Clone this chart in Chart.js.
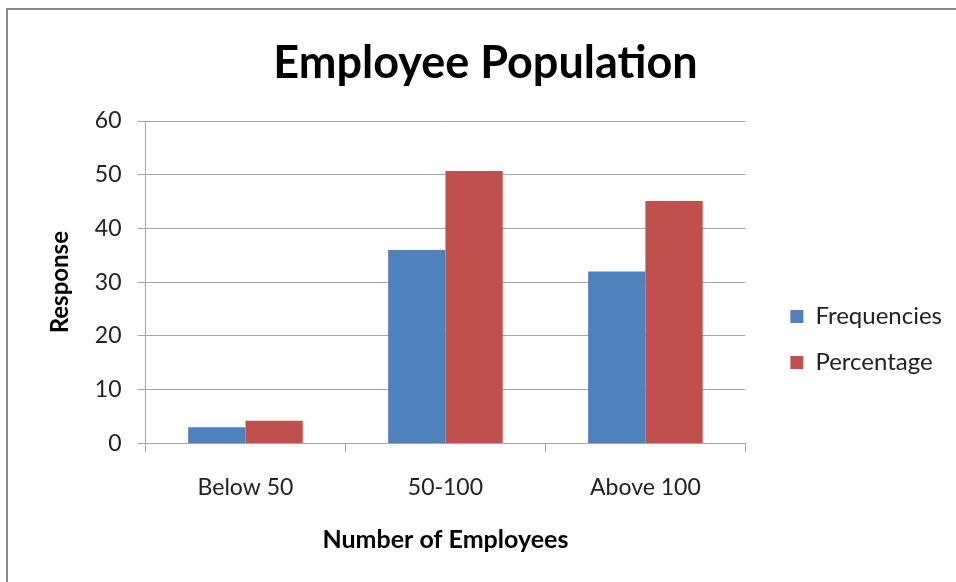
<!DOCTYPE html>
<html>
<head>
<meta charset="utf-8">
<script src="https://cdn.jsdelivr.net/npm/chart.js@4"></script>
<style>
  html, body { margin: 0; padding: 0; background: #fff; }
  #wrap { position: relative; width: 956px; height: 582px; overflow: hidden; }
  #frame { position: absolute; left: 6px; top: 8px; width: 1000px; height: 1000px; border: 2px solid #8a8a8a; box-sizing: border-box; }
  #c { position: absolute; left: 0; top: 0; }
</style>
</head>
<body>
<div id="wrap">
  <div id="frame"></div>
  <canvas id="c" width="956" height="582"></canvas>
</div>
<script>
const categories = ["Below 50", "50-100", "Above 100"];
const frequencies = [3, 36, 32];
const percentage = [4.2, 50.7, 45.1];
const seriesNames = ["Frequencies", "Percentage"];
const yTicks = [0, 10, 20, 30, 40, 50, 60];

const FONT = "Lato, 'Open Sans', sans-serif";
const gridColor = "#a6a6a6";

const nudgeBoxes = {
  id: "nudgeBoxes",
  afterLayout(chart) {
    const lg = chart.legend;
    if (lg) { lg.left += 23; lg.right += 23; lg.top += 44; lg.bottom += 44; }
    const tb = chart.titleBlock;
    if (tb) { tb.left += 11; tb.right += 11; }
  }
};

new Chart(document.getElementById("c"), {
  type: "bar",
  data: {
    labels: categories,
    datasets: [
      { label: seriesNames[0], data: frequencies, backgroundColor: "#4F81BD", borderWidth: 0,
        categoryPercentage: 0.573, barPercentage: 1.0 },
      { label: seriesNames[1], data: percentage, backgroundColor: "#C0504D", borderWidth: 0,
        categoryPercentage: 0.573, barPercentage: 1.0 }
    ]
  },
  plugins: [nudgeBoxes],
  options: {
    responsive: false,
    animation: false,
    devicePixelRatio: 1,
    layout: { padding: { left: 20, right: 27, top: 36, bottom: 27 } },
    plugins: {
      title: {
        display: true,
        text: "Employee Population",
        color: "#000",
        font: { family: FONT, size: 45, weight: "bold", lineHeight: 1.2 },
        padding: { top: 0, bottom: 31 }
      },
      legend: {
        display: true,
        position: "right",
        align: "center",
        labels: {
          color: "#222",
          font: { family: FONT, size: 24 },
          boxWidth: 13,
          boxHeight: 13,
          padding: 22
        }
      },
      tooltip: { enabled: false }
    },
    scales: {
      x: {
        grid: { display: true, drawOnChartArea: false, drawTicks: true, tickLength: 9, color: gridColor, offset: true },
        border: { display: true, color: gridColor, width: 1 },
        ticks: { color: "#222", font: { family: FONT, size: 23 }, padding: 21 },
        title: { display: true, text: "Number of Employees", color: "#000",
                 font: { family: FONT, size: 25, weight: "bold" }, padding: { top: 3, bottom: 0 } }
      },
      y: {
        min: 0, max: 60,
        afterBuildTicks: (s) => { s.ticks = yTicks.map(v => ({ value: v })); },
        grid: { color: gridColor, tickLength: 8, lineWidth: 1 },
        border: { display: true, color: gridColor, width: 1 },
        ticks: { color: "#222", font: { family: FONT, size: 23 }, padding: 16 },
        title: { display: true, text: "Response", color: "#000",
                 font: { family: FONT, size: 24, weight: "bold" }, padding: { top: 26, bottom: 4 } }
      }
    }
  }
});
</script>
</body>
</html>
